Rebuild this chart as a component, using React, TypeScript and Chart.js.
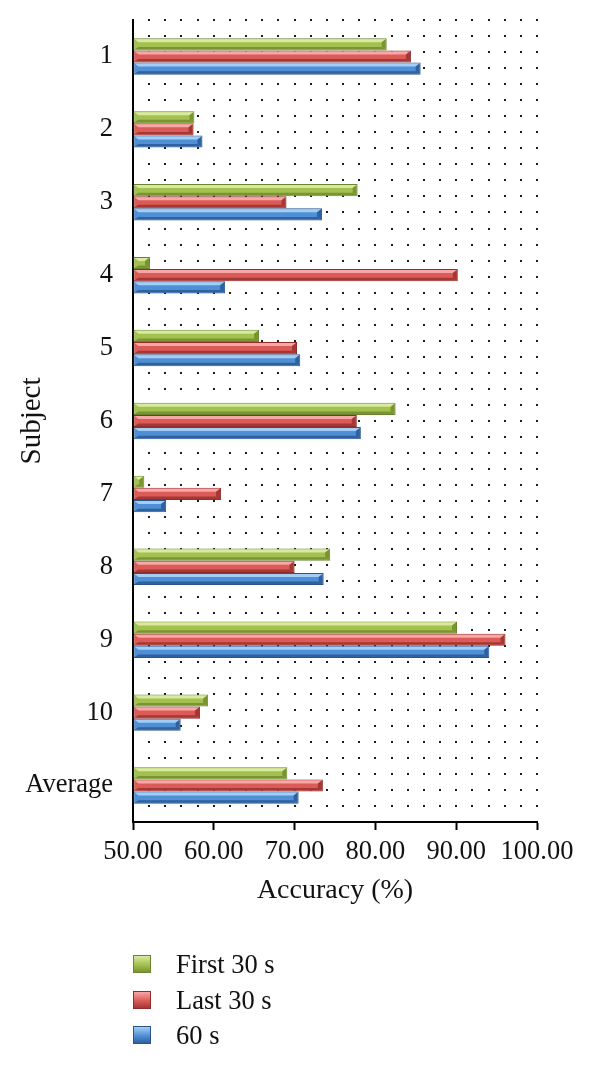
import React, { useEffect, useRef } from "react";
import { Chart, registerables } from "chart.js";

Chart.register(...registerables);

const categories = ["1", "2", "3", "4", "5", "6", "7", "8", "9", "10", "Average"];
const first30 = [81.4, 57.6, 77.8, 52.1, 65.6, 82.5, 51.4, 74.4, 90.1, 59.3, 69.1];
const last30 = [84.4, 57.5, 69.0, 90.2, 70.3, 77.7, 60.9, 70.0, 96.1, 58.3, 73.5];
const sixty = [85.6, 58.6, 73.4, 61.4, 70.7, 78.2, 54.1, 73.6, 94.1, 55.9, 70.5];
const xTicks = [50, 60, 70, 80, 90, 100];
const seriesNames = ["First 30 s", "Last 30 s", "60 s"];

const FONT = "'Liberation Serif', 'DejaVu Serif', serif";

const palette = [
  { body: "#a3c14f", light: "#d9eaa0", dark: "#7a9433", border: "#6a8530" },
  { body: "#dc5a57", light: "#f7a8a6", dark: "#a33835", border: "#8e2d2b" },
  { body: "#4f8fd6", light: "#a4cdf6", dark: "#2f619e", border: "#2a558c" },
];

const dotsPlugin = {
  id: "dotsPattern",
  beforeDatasetsDraw(chart: any) {
    const { ctx, chartArea: a } = chart;
    const xs = chart.scales.x;
    ctx.save();
    ctx.fillStyle = "#1a1a1a";
    const rows = 50;
    const dy = (a.bottom - a.top) / rows;
    for (let v = 52; v <= 100; v += 2) {
      const px = Math.round(xs.getPixelForValue(v));
      for (let k = 0; k < rows; k++) {
        const py = Math.round(a.top + k * dy);
        ctx.fillRect(px - 1, py - 1, 2, 2);
      }
    }
    ctx.restore();
  },
};

const bevelPlugin = {
  id: "bevel",
  afterDatasetsDraw(chart: any) {
    const ctx = chart.ctx;
    chart.data.datasets.forEach((_ds: any, di: number) => {
      const meta = chart.getDatasetMeta(di);
      const p = palette[di];
      meta.data.forEach((bar: any) => {
        const { x, y, base, height } = bar.getProps(["x", "y", "base", "height"], true);
        const top = y - height / 2;
        const bot = y + height / 2;
        const left = Math.min(base, x) + 1;
        const right = Math.max(base, x) - 1;
        const b = Math.min(4, (right - left) / 2);
        ctx.save();
        ctx.fillStyle = p.light;
        ctx.beginPath();
        ctx.moveTo(left, top + 1);
        ctx.lineTo(right, top + 1);
        ctx.lineTo(right - b, top + 4);
        ctx.lineTo(left + b, top + 4);
        ctx.closePath();
        ctx.fill();
        ctx.fillStyle = p.dark;
        ctx.beginPath();
        ctx.moveTo(left, bot - 1);
        ctx.lineTo(right, bot - 1);
        ctx.lineTo(right - b, bot - 3.5);
        ctx.lineTo(left + b, bot - 3.5);
        ctx.closePath();
        ctx.fill();
        ctx.beginPath();
        ctx.moveTo(right, top + 1);
        ctx.lineTo(right, bot - 1);
        ctx.lineTo(right - b, bot - 3.5);
        ctx.lineTo(right - b, top + 4);
        ctx.closePath();
        ctx.fill();
        ctx.restore();
      });
    });
  },
};

export default function App() {
  const canvasRef = useRef<HTMLCanvasElement | null>(null);

  useEffect(() => {
    if (!canvasRef.current) return;
    const seriesData = [first30, last30, sixty];
    const chart = new Chart(canvasRef.current, {
      type: "bar",
      data: {
        labels: categories,
        datasets: seriesData.map((d, i) => ({
          label: seriesNames[i],
          data: d,
          base: 50,
          backgroundColor: palette[i].body,
          borderColor: palette[i].border,
          borderWidth: 1,
          borderSkipped: false,
          categoryPercentage: 0.5,
          barPercentage: 1.0,
        })),
      },
      options: {
        indexAxis: "y",
        animation: false,
        responsive: false,
        maintainAspectRatio: false,
        layout: { padding: { top: 20, right: 63, bottom: 163, left: 0 } },
        plugins: {
          legend: { display: false },
          tooltip: { enabled: false },
        },
        scales: {
          x: {
            type: "linear",
            min: 50,
            max: 100,
            afterBuildTicks: (scale: any) => {
              scale.ticks = xTicks.map((v) => ({ value: v }));
            },
            afterFit: (scale: any) => {
              scale.height = 88;
              scale.paddingLeft = 0;
              scale.paddingRight = 0;
            },
            ticks: {
              color: "#111",
              font: { family: FONT, size: 26.5 },
              padding: 6,
              maxRotation: 0,
              callback: (v: any) => Number(v).toFixed(2),
            },
            grid: {
              drawOnChartArea: false,
              drawTicks: true,
              tickLength: 8,
              tickWidth: 2,
              tickColor: "#000",
            },
            border: { display: true, color: "#000", width: 2 },
            title: {
              display: true,
              text: "Accuracy (%)",
              color: "#111",
              font: { family: FONT, size: 28 },
              padding: { top: 0, bottom: 3 },
            },
          },
          y: {
            type: "category",
            afterFit: (scale: any) => {
              scale.width = 133;
              scale.paddingTop = 0;
              scale.paddingBottom = 0;
            },
            ticks: {
              color: "#111",
              font: { family: FONT, size: 26.5 },
              padding: 20,
            },
            grid: { drawOnChartArea: false, drawTicks: false },
            border: { display: true, color: "#000", width: 2 },
            title: {
              display: true,
              text: "Subject",
              color: "#111",
              font: { family: FONT, size: 29 },
              padding: { top: 15, bottom: 0 },
            },
          },
        },
      },
      plugins: [dotsPlugin, bevelPlugin],
    } as any);
    return () => chart.destroy();
  }, []);

  const rowCenters = [964, 1000, 1035];

  return (
    <div style={{ position: "absolute", left: 0, top: 0, width: 600, height: 1073, background: "#fff" }}>
      <canvas ref={canvasRef} width={600} height={1073} style={{ display: "block" }} />
      {seriesNames.map((name, i) => (
        <div
          key={name}
          style={{
            position: "absolute",
            left: 133,
            top: rowCenters[i] - 16,
            height: 32,
            display: "flex",
            alignItems: "center",
            fontFamily: FONT,
            fontSize: 26.5,
            color: "#111",
            whiteSpace: "nowrap",
          }}
        >
          <span
            style={{
              display: "inline-block",
              width: 18,
              height: 18,
              marginRight: 25,
              background: `linear-gradient(180deg, ${palette[i].light} 0%, ${palette[i].body} 55%, ${palette[i].dark} 100%)`,
              border: `1px solid ${palette[i].border}`,
              boxSizing: "border-box",
            }}
          />
          {name}
        </div>
      ))}
    </div>
  );
}
